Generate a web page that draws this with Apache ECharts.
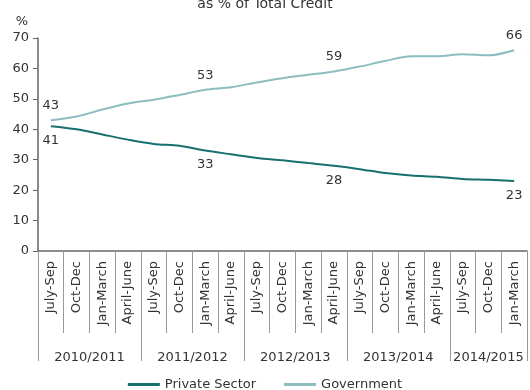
<!DOCTYPE html>
<html>
<head>
<meta charset="utf-8">
<script src="https://cdn.jsdelivr.net/npm/echarts@6/dist/echarts.min.js"></script>
<style>
  html, body { margin: 0; padding: 0; background: #fff; }
  #chart { width: 530px; height: 390px; }
</style>
</head>
<body>
<div id="chart"></div>
<script>
// Quarterly share of total credit, fiscal years 2010/2011 - 2014/2015
const quarters = [
  'July-Sep', 'Oct-Dec', 'Jan-March', 'April-June',
  'July-Sep', 'Oct-Dec', 'Jan-March', 'April-June',
  'July-Sep', 'Oct-Dec', 'Jan-March', 'April-June',
  'July-Sep', 'Oct-Dec', 'Jan-March', 'April-June',
  'July-Sep', 'Oct-Dec', 'Jan-March'
];
const fiscalYears = ['2010/2011', '2011/2012', '2012/2013', '2013/2014', '2014/2015'];
const quartersPerYear = [4, 4, 4, 4, 3];

const privateSector = [41, 40, 38.3, 36.6, 35.2, 34.6, 33, 31.8, 30.6, 29.8, 28.9, 28, 26.9, 25.6, 24.8, 24.4, 23.7, 23.4, 23];
const government   = [43, 44.2, 46.5, 48.5, 49.7, 51.3, 53, 53.8, 55.4, 56.8, 57.9, 59, 60.6, 62.5, 64, 64, 64.7, 64.3, 66];

// Points that carry a value label
const labelledIdx = [0, 6, 11, 18];

const yTicks = { min: 0, max: 70, step: 10 };

// Year axis: half-quarter slots, so group boundaries and centres fall on slots
const halfSlots = quarters.length * 2 + 1;
const yearSlots = new Array(halfSlots).fill('');
const boundarySlots = [0];
let acc = 0;
quartersPerYear.forEach((n, i) => {
  yearSlots[acc * 2 + n] = fiscalYears[i];
  acc += n;
  boundarySlots.push(acc * 2);
});

const FONT = 'DejaVu Sans';
const PRIV = '#17706e';
const GOV = '#8dbdc0';

function labelled(values, pos) {
  return values.map((v, i) => labelledIdx.includes(i)
    ? { value: v, label: { show: true, position: pos, distance: 8,
        formatter: String(Math.round(v)), color: '#333', fontSize: 13, fontFamily: FONT } }
    : v);
}

const chart = echarts.init(document.getElementById('chart'), null, { renderer: 'canvas' });
chart.setOption({
  animation: false,
  title: {
    text: 'as % of Total Credit',
    left: 'center',
    top: -8,
    textStyle: { fontFamily: FONT, fontSize: 14, fontWeight: 'normal', color: '#333' }
  },
  legend: {
    bottom: -6,
    left: 'center',
    itemWidth: 32,
    itemHeight: 3,
    itemGap: 28,
    icon: 'rect',
    textStyle: { fontFamily: FONT, fontSize: 13, color: '#333' },
    data: ['Private Sector', 'Government']
  },
  grid: { left: 38, right: 0, top: 38, bottom: 139, containLabel: false },
  xAxis: [
    {
      type: 'category',
      data: quarters,
      boundaryGap: true,
      axisLine: { lineStyle: { color: '#666', width: 1.5 } },
      axisTick: { show: true, interval: 0, length: 82, lineStyle: { color: '#999' } },
      axisLabel: { interval: 0, rotate: 90, margin: 10, fontFamily: FONT, fontSize: 13, color: '#333' }
    },
    {
      type: 'category',
      position: 'bottom',
      data: yearSlots,
      boundaryGap: false,
      axisLine: { show: false },
      axisTick: {
        show: true, length: 110,
        interval: (i) => boundarySlots.includes(i),
        lineStyle: { color: '#999' }
      },
      axisLabel: {
        interval: 0, margin: 100,
        fontFamily: FONT, fontSize: 13, color: '#333'
      }
    }
  ],
  yAxis: {
    type: 'value',
    min: yTicks.min,
    max: yTicks.max,
    interval: yTicks.step,
    name: '%',
    nameLocation: 'end',
    nameGap: 10,
    nameTextStyle: { fontFamily: FONT, fontSize: 13, color: '#333', align: 'right', padding: [0, 10, 0, 0] },
    axisLine: { show: true, lineStyle: { color: '#666', width: 1.5 } },
    axisTick: { show: true, length: 5, lineStyle: { color: '#666' } },
    splitLine: { show: false },
    axisLabel: { fontFamily: FONT, fontSize: 13, color: '#333', margin: 9 }
  },
  series: [
    {
      name: 'Private Sector',
      type: 'line',
      data: labelled(privateSector, 'bottom'),
      showSymbol: true,
      symbol: 'circle',
      symbolSize: 0,
      smooth: 0.3,
      lineStyle: { color: PRIV, width: 2 },
      itemStyle: { color: PRIV }
    },
    {
      name: 'Government',
      type: 'line',
      data: labelled(government, 'top'),
      showSymbol: true,
      symbol: 'circle',
      symbolSize: 0,
      smooth: 0.3,
      lineStyle: { color: GOV, width: 2 },
      itemStyle: { color: GOV }
    }
  ]
});
</script>
</body>
</html>
